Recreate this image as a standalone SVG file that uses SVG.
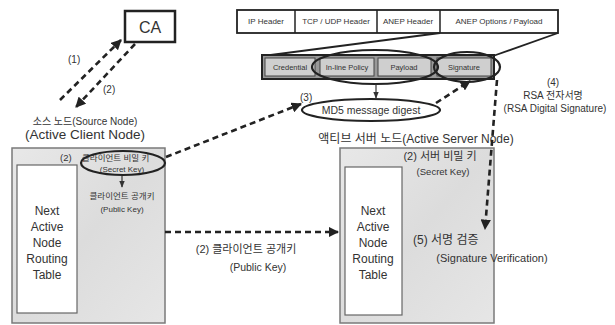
<svg xmlns="http://www.w3.org/2000/svg" width="615" height="325" viewBox="0 0 615 325">
<style>
text{font-family:"Liberation Sans","Noto Sans CJK KR",sans-serif;fill:#333}
.c{text-anchor:middle}
.dash{fill:none;stroke:#222;stroke-width:2.6;stroke-dasharray:6,4}
.box{stroke:#7a7a7a;stroke-width:1.5}
.inner{fill:#fff;stroke:#666;stroke-width:1.2}
.ell{fill:none;stroke:#222;stroke-width:2.2}
.hdr{fill:#fff;stroke:#222;stroke-width:1.8}
.cell{fill:#cfcfcf;stroke:#444;stroke-width:1}
</style>
<defs>
<marker id="ah" viewBox="0 0 10 10" refX="9" refY="5" markerWidth="4" markerHeight="4" orient="auto">
<path d="M0,0 L10,5 L0,10 z" fill="#222"/>
</marker>
<marker id="as" viewBox="0 0 10 10" refX="9" refY="5" markerWidth="6" markerHeight="6" orient="auto">
<path d="M0,1 L10,5 L0,9 z" fill="#333"/>
</marker>
<linearGradient id="g" x1="0" y1="0" x2="1" y2="1">
<stop offset="0" stop-color="#e8e8e8"/><stop offset="0.5" stop-color="#dcdcdc"/><stop offset="1" stop-color="#e6e6e6"/>
</linearGradient>
</defs>

<g id="ca">
<rect x="125" y="11" width="50" height="31" fill="#fff" stroke="#222" stroke-width="2.5"/>
<text class="c" x="150" y="33" font-size="16">CA</text>
</g>

<g id="packet">
<rect class="hdr" x="237" y="10" width="321" height="23"/>
<line x1="295" y1="10" x2="295" y2="33" stroke="#222" stroke-width="1.5"/>
<line x1="377" y1="10" x2="377" y2="33" stroke="#222" stroke-width="1.5"/>
<line x1="440" y1="10" x2="440" y2="33" stroke="#222" stroke-width="1.5"/>
<text class="c" x="266" y="24" font-size="8">IP Header</text>
<text class="c" x="336" y="24" font-size="8">TCP / UDP Header</text>
<text class="c" x="408" y="24" font-size="8">ANEP Header</text>
<text class="c" x="499" y="24" font-size="8">ANEP Options / Payload</text>
<line x1="440" y1="33" x2="263" y2="56" stroke="#222" stroke-width="1.8"/>
<line x1="558" y1="33" x2="493" y2="56" stroke="#222" stroke-width="1.8"/>
<rect x="262" y="55" width="232" height="24" fill="#999" stroke="#222" stroke-width="2"/>
<rect class="cell" x="265" y="58" width="50" height="18"/>
<rect class="cell" x="320" y="58" width="54" height="18"/>
<rect class="cell" x="378" y="58" width="53" height="18"/>
<rect class="cell" x="437" y="58" width="54" height="18"/>
<text class="c" x="290" y="70" font-size="7.5">Credential</text>
<text class="c" x="347" y="70" font-size="7.5">In-line Policy</text>
<text class="c" x="404" y="70" font-size="7.5">Payload</text>
<text class="c" x="464" y="70" font-size="7.5">Signature</text>
<ellipse class="ell" cx="375" cy="67" rx="63" ry="17"/>
<ellipse class="ell" cx="467" cy="67" rx="33" ry="15"/>
</g>

<g id="md5">
<ellipse class="ell" cx="371" cy="110" rx="69" ry="11"/>
<text class="c" x="371" y="114" font-size="10.5">MD5 message digest</text>
<text x="300" y="101" font-size="10">(3)</text>
</g>

<g id="rsa">
<text class="c" x="553" y="86" font-size="10">(4)</text>
<text class="c" x="553" y="99" font-size="10">RSA 전자서명</text>
<text class="c" x="555" y="112" font-size="10">(RSA Digital Signature)</text>
</g>

<g id="client">
<text class="c" x="85" y="125" font-size="10">소스 노드(Source Node)</text>
<text class="c" x="85" y="139" font-size="13.5">(Active Client Node)</text>
<rect class="box" x="12" y="148" width="153" height="175" fill="url(#g)"/>
<rect class="inner" x="17" y="165" width="60" height="148"/>
<text class="c" x="47" y="215" font-size="12">Next</text>
<text class="c" x="47" y="231" font-size="12">Active</text>
<text class="c" x="47" y="247" font-size="12">Node</text>
<text class="c" x="47" y="263" font-size="12">Routing</text>
<text class="c" x="47" y="279" font-size="12">Table</text>
<text x="60" y="161" font-size="9.5">(2)</text>
<text x="82" y="161" font-size="8.5">클라이언트 비밀 키</text>
<text class="c" x="122" y="172" font-size="8">(Secret Key)</text>
<ellipse class="ell" cx="123" cy="163" rx="42" ry="12"/>
<line x1="122" y1="176" x2="122" y2="187" stroke="#333" stroke-width="1.2" marker-end="url(#as)"/>
<text class="c" x="122" y="199" font-size="8.5">클라이언트 공개키</text>
<text class="c" x="122" y="212" font-size="8">(Public Key)</text>
</g>

<g id="server">
<text class="c" x="416" y="143" font-size="12">액티브 서버 노드(Active Server Node)</text>
<rect class="box" x="340" y="148" width="154" height="175" fill="url(#g)"/>
<rect class="inner" x="345" y="167" width="57" height="148"/>
<text class="c" x="373" y="215" font-size="12">Next</text>
<text class="c" x="373" y="231" font-size="12">Active</text>
<text class="c" x="373" y="247" font-size="12">Node</text>
<text class="c" x="373" y="263" font-size="12">Routing</text>
<text class="c" x="373" y="279" font-size="12">Table</text>
<text class="c" x="440" y="160" font-size="11">(2) 서버 비밀 키</text>
<text class="c" x="443" y="175" font-size="9.5">(Secret Key)</text>
<text x="413" y="244" font-size="12">(5) 서명 검증</text>
<text class="c" x="492" y="262" font-size="11">(Signature Verification)</text>
</g>

<g id="connectors">
<line class="dash" x1="60" y1="100" x2="121" y2="40" marker-end="url(#ah)"/>
<line class="dash" x1="135" y1="44" x2="76" y2="107" marker-end="url(#ah)"/>
<text x="68" y="63" font-size="10">(1)</text>
<text x="103" y="93" font-size="10">(2)</text>
<line class="dash" x1="166" y1="157" x2="301" y2="104" marker-end="url(#ah)"/>
<line x1="376" y1="84" x2="376" y2="98" stroke="#333" stroke-width="1.2" marker-end="url(#as)"/>
<line class="dash" x1="436" y1="103" x2="470" y2="81" marker-end="url(#ah)"/>
<line class="dash" x1="497" y1="80" x2="485" y2="229" marker-end="url(#ah)"/>
<line class="dash" x1="165" y1="232" x2="338" y2="232" marker-end="url(#ah)"/>
<text class="c" x="246" y="253" font-size="11">(2) 클라이언트 공개키</text>
<text class="c" x="258" y="271" font-size="10.5">(Public Key)</text>
</g>
</svg>
